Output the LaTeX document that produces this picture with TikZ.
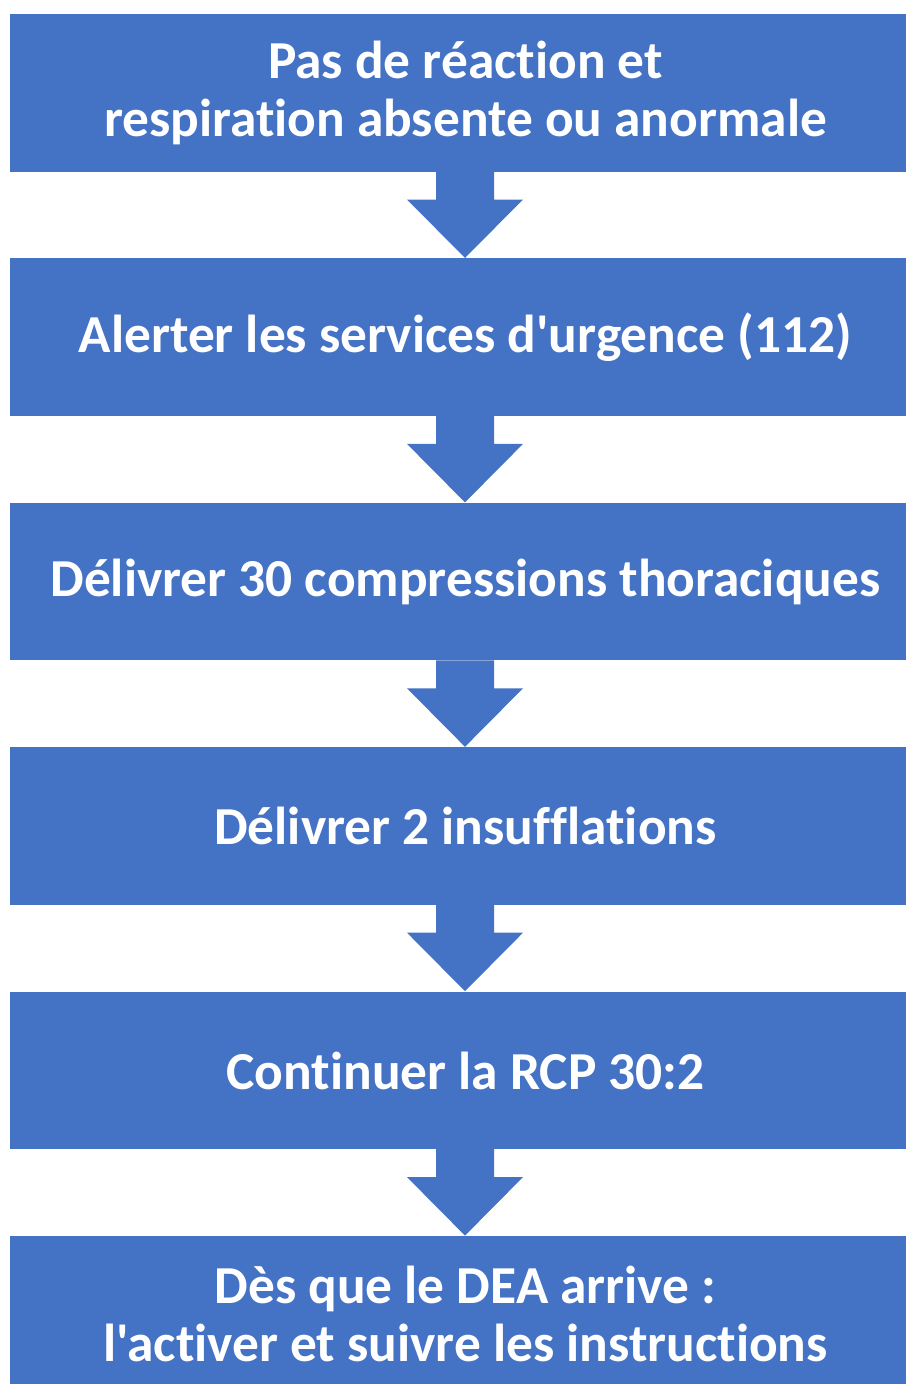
\documentclass[tikz,border=0pt]{standalone}
\usepackage{fontspec}
\setmainfont{Carlito}[Ligatures={TeXOff,CommonOff}]
\definecolor{boxblue}{HTML}{4472C4}
\begin{document}
\begin{tikzpicture}[x=1pt,y=-1pt,
  stepbox/.style={fill=boxblue,draw=none},
  steptext/.style={text=white,font=\bfseries\fontsize{53.4}{58}\selectfont,align=center,inner sep=0pt},
  downarrow/.style={fill=boxblue,draw=none}]
\useasboundingbox (0,0) rectangle (906,1384);
\foreach \t in {14,258.4,502.8,747.2,991.6,1236}{
  \fill[boxblue] (10,\t) rectangle (906,\t+157.5);
}
\node[steptext] (s1) at (465.5,92.5) {Pas de réaction et\\respiration absente ou anormale};
\node[steptext] (s2) at (465.5,337) {Alerter les services d'urgence (112)};
\node[steptext] (s3) at (465.5,581.5) {Délivrer 30 compressions thoraciques};
\node[steptext] (s4) at (465.5,826) {Délivrer 2 insufflations};
\node[steptext] (s5) at (465.5,1070.5) {Continuer la RCP 30:2};
\node[steptext] (s6) at (465.5,1314) {Dès que le DEA arrive :\\l'activer et suivre les instructions};
\foreach \t in {171.5,415.9,660.3,904.7,1149.1}{
  \fill[boxblue] (436,\t) -- (494,\t) -- (494,\t+28) -- (523,\t+28) -- (465,\t+86.5) -- (407,\t+28) -- (436,\t+28) -- cycle;
}
\end{tikzpicture}
\end{document}
